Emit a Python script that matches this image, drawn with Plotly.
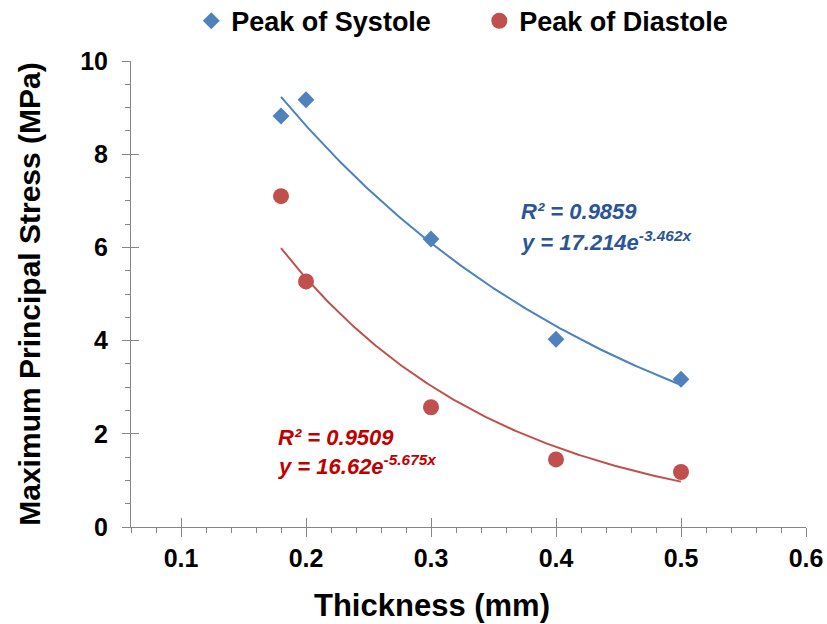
import numpy as np
import plotly.graph_objects as go

thickness = [0.18, 0.2, 0.3, 0.4, 0.5]
systole = [8.82, 9.17, 6.18, 4.03, 3.17]
diastole = [7.10, 5.27, 2.57, 1.45, 1.18]

# displayed exponential trendline coefficients
sys_a, sys_b, sys_r2 = 17.214, -3.462, 0.9859
dia_a, dia_b, dia_r2 = 16.62, -5.675, 0.9509

x_ticks = [0.1, 0.2, 0.3, 0.4, 0.5, 0.6]
y_ticks = [0, 2, 4, 6, 8, 10]

BLUE = "#4F81BD"
RED = "#C0504D"
FONT = "Liberation Sans, Arial, sans-serif"

xfit = np.linspace(min(thickness), max(thickness), 200)
sys_fit = sys_a * np.exp(sys_b * xfit)
dia_fit = dia_a * np.exp(dia_b * xfit)

fig = go.Figure()
fig.add_trace(go.Scatter(x=xfit, y=sys_fit, mode="lines", line=dict(color=BLUE, width=2),
                         showlegend=False, hoverinfo="skip"))
fig.add_trace(go.Scatter(x=xfit, y=dia_fit, mode="lines", line=dict(color=RED, width=2),
                         showlegend=False, hoverinfo="skip"))
fig.add_trace(go.Scatter(x=thickness, y=systole, mode="markers", name="Peak of Systole",
                         marker=dict(symbol="diamond", size=13, color=BLUE)))
fig.add_trace(go.Scatter(x=thickness, y=diastole, mode="markers", name="Peak of Diastole",
                         marker=dict(symbol="circle", size=16, color=RED)))

axis_col = "#868686"
fig.update_layout(
    width=827, height=624,
    paper_bgcolor="white", plot_bgcolor="white",
    margin=dict(l=131, r=21, t=61, b=97, autoexpand=False),
    font=dict(family=FONT, color="black"),
    legend=dict(orientation="h", x=0.516, xanchor="center", y=0.966, yanchor="middle",
                yref="container", font=dict(size=27, family=FONT, weight="bold"),
                itemwidth=30, entrywidth=243, entrywidthmode="pixels"),
    xaxis=dict(range=[0.06, 0.6], tickvals=x_ticks, ticktext=[str(v) for v in x_ticks],
               showgrid=False, zeroline=False, showline=True, linecolor=axis_col, linewidth=1,
               ticks="outside", ticklen=9, tickcolor=axis_col, automargin=False,
               minor=dict(dtick=0.02, tick0=0.0, ticks="outside", ticklen=5, tickcolor=axis_col, showgrid=False),
               tickfont=dict(size=25, family=FONT, weight="bold"), ticklabelstandoff=0),
    yaxis=dict(range=[0, 10], tickvals=y_ticks,
               showgrid=False, zeroline=False, showline=True, linecolor=axis_col, linewidth=1,
               ticks="outside", ticklen=8, tickcolor=axis_col, automargin=False,
               minor=dict(dtick=0.5, tick0=0, ticks="outside", ticklen=5, tickcolor=axis_col, showgrid=False),
               tickfont=dict(size=25, family=FONT, weight="bold"), ticklabelstandoff=9,
               title=dict(text="Maximum Principal Stress (MPa)", font=dict(size=30, family=FONT, weight="bold"), standoff=30)),
    xaxis2=dict(overlaying="x", matches="x", range=[0.06, 0.6], tickvals=x_ticks, showticklabels=False,
                showgrid=False, zeroline=False, showline=False, ticks="inside", ticklen=9, tickcolor=axis_col),
    yaxis2=dict(overlaying="y", matches="y", range=[0, 10], tickvals=y_ticks, showticklabels=False,
                showgrid=False, zeroline=False, showline=False, ticks="inside", ticklen=8, tickcolor=axis_col),
)
# invisible trace to make overlay axes render
fig.add_trace(go.Scatter(x=[thickness[0]], y=[systole[0]], xaxis="x2", yaxis="y2", mode="markers",
                         marker=dict(opacity=0), showlegend=False, hoverinfo="skip"))

# x-axis title (offset left of plot centre as in the reference)
fig.add_annotation(xref="paper", yref="paper", x=0.446, y=-0.168, xanchor="center", yanchor="middle",
                   showarrow=False, text="Thickness (mm)",
                   font=dict(size=31, family=FONT, weight="bold", color="black"))

ann_font_b = dict(size=22, family=FONT, color="#2A5597", weight="bold", style="italic")
ann_font_r = dict(size=22, family=FONT, color="#C00000", weight="bold", style="italic")
fig.add_annotation(x=0.370, y=6.76, xanchor="left", yanchor="middle", showarrow=False,
                   text=f"R² = {sys_r2}", font=ann_font_b)
fig.add_annotation(x=0.370, y=6.13, xanchor="left", yanchor="middle", showarrow=False,
                   text=f"y = {sys_a}e<sup>{sys_b}x</sup>", font=ann_font_b)
fig.add_annotation(x=0.176, y=1.93, xanchor="left", yanchor="middle", showarrow=False,
                   text=f"R² = {dia_r2}", font=ann_font_r)
fig.add_annotation(x=0.176, y=1.33, xanchor="left", yanchor="middle", showarrow=False,
                   text=f"y = {dia_a}e<sup>{dia_b}x</sup>", font=ann_font_r)

fig.write_html("out.html")
